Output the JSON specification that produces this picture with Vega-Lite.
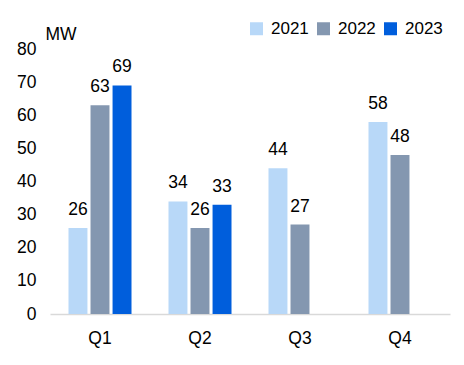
{
  "$schema": "https://vega.github.io/schema/vega-lite/v6.json",
  "width": 400,
  "height": 265,
  "autosize": {"type": "none"},
  "padding": {"left": 50, "top": 49, "right": 14, "bottom": 51},
  "background": "white",
  "config": {
    "view": {"stroke": null},
    "font": "Liberation Sans",
    "axis": {"labelFont": "Liberation Sans", "titleFont": "Liberation Sans", "labelColor": "#000000", "titleColor": "#000000"},
    "legend": {"labelFont": "Liberation Sans"}
  },
  "data": {
    "values": [
      {"quarter": "Q1", "year": "2021", "mw": 26},
      {"quarter": "Q1", "year": "2022", "mw": 63},
      {"quarter": "Q1", "year": "2023", "mw": 69},
      {"quarter": "Q2", "year": "2021", "mw": 34},
      {"quarter": "Q2", "year": "2022", "mw": 26},
      {"quarter": "Q2", "year": "2023", "mw": 33},
      {"quarter": "Q3", "year": "2021", "mw": 44},
      {"quarter": "Q3", "year": "2022", "mw": 27},
      {"quarter": "Q4", "year": "2021", "mw": 58},
      {"quarter": "Q4", "year": "2022", "mw": 48}
    ]
  },
  "encoding": {
    "x": {
      "field": "quarter", "type": "nominal",
      "scale": {"paddingInner": 0.37, "paddingOuter": 0.185},
      "axis": {
        "title": null, "labelAngle": 0, "labelFontSize": 17.5, "labelPadding": 15,
        "ticks": false, "domainColor": "#D9D9D9", "domainWidth": 1.5, "grid": false
      }
    },
    "xOffset": {
      "field": "year", "type": "nominal",
      "scale": {"domain": ["2021", "2022", "2023"], "paddingInner": 0.14, "paddingOuter": 0}
    },
    "y": {
      "field": "mw", "type": "quantitative",
      "scale": {"domain": [0, 80], "nice": false},
      "axis": {
        "title": "MW", "titleAngle": 0, "titleAlign": "left", "titleBaseline": "alphabetic",
        "titleX": -5, "titleY": -10, "titleFontSize": 17.5, "titleFontWeight": "normal",
        "values": [0, 10, 20, 30, 40, 50, 60, 70, 80],
        "labelFontSize": 17.5, "labelPadding": 14, "ticks": false, "domain": false, "grid": false
      }
    }
  },
  "layer": [
    {
      "mark": {"type": "bar"},
      "encoding": {
        "color": {
          "field": "year", "type": "nominal",
          "scale": {"domain": ["2021", "2022", "2023"], "range": ["#B8D8F8", "#8497B0", "#005EDC"]},
          "legend": {
            "title": null, "orient": "none", "direction": "horizontal",
            "legendX": 198, "legendY": -29, "padding": 0,
            "symbolType": "square", "symbolSize": 169, "symbolStrokeWidth": 0,
            "labelFontSize": 17, "labelColor": "#000000", "labelOffset": 6, "columnPadding": 6
          }
        }
      }
    },
    {
      "mark": {"type": "text", "baseline": "alphabetic", "dy": -13, "fontSize": 17.5, "color": "#000000"},
      "encoding": {"text": {"field": "mw", "type": "quantitative"}}
    }
  ]
}
